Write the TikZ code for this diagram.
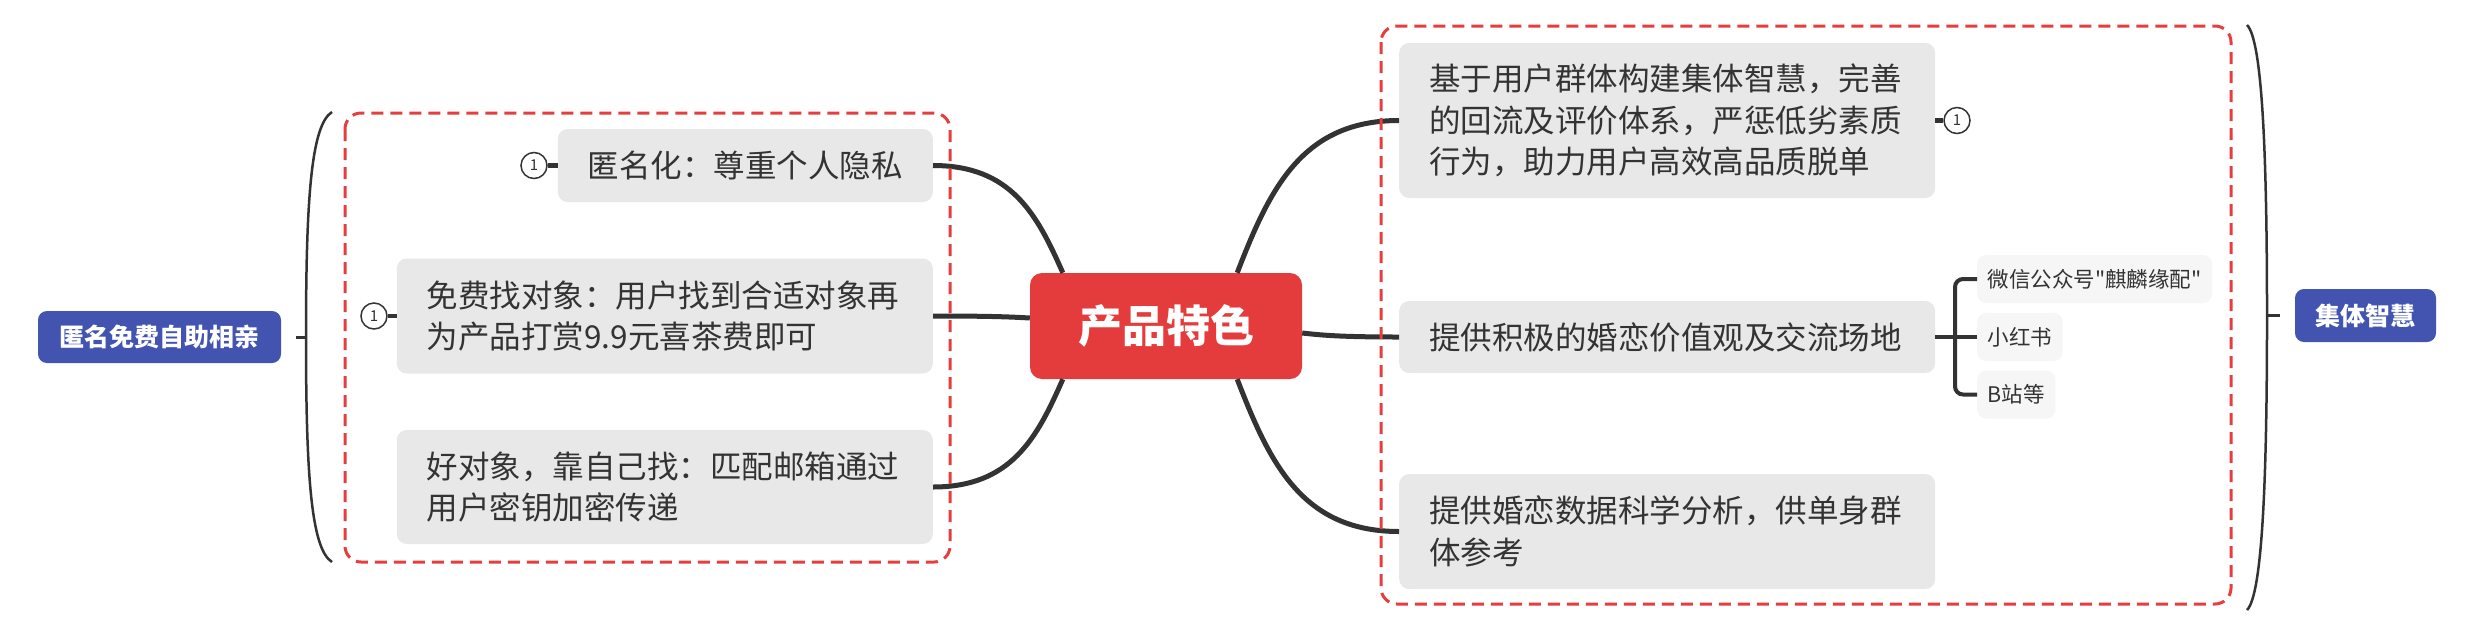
\documentclass[tikz,border=0pt]{standalone}
\usepackage{fontspec}
\newfontfamily\cjk{Noto Sans CJK SC}
\usetikzlibrary{calc}
\definecolor{linec}{HTML}{333333}
\definecolor{boxgray}{HTML}{E8E8E8}
\definecolor{subgray}{HTML}{F6F6F6}
\definecolor{centerred}{HTML}{E43C3C}
\definecolor{dashred}{HTML}{E63E3E}
\definecolor{nodeblue}{HTML}{4254B0}
\newcommand\mmcurve[2]{%
  \draw[conn] let \p1=(#1), \p2=(#2) in
    (\p1) .. controls ({\x1+0.2*(\x2-\x1)},{\y1+0.55*(\y2-\y1)}) and ({\x1+0.4*(\x2-\x1)},\y2) .. (\p2);}
\begin{document}
\begin{tikzpicture}[x=1pt,y=-1pt,
  gbox/.style={fill=boxgray, rounded corners=10pt, inner xsep=30pt, inner ysep=0pt,
    text=linec, font=\cjk\fontsize{31.5}{41.5}\selectfont, align=left},
  wbox/.style={gbox, text width=476pt},
  centerbox/.style={fill=centerred, rounded corners=12pt, inner sep=0pt,
    minimum width=272pt, minimum height=106pt, text=white,
    font=\cjk\bfseries\fontsize{44}{44}\selectfont},
  bluebox/.style={fill=nodeblue, rounded corners=9pt, inner sep=0pt, text=white,
    font=\cjk\bfseries\fontsize{25}{25}\selectfont},
  subbox/.style={fill=subgray, rounded corners=9pt, inner xsep=10.5pt, inner ysep=0pt,
    minimum height=48pt, anchor=west, text=linec, font=\cjk\fontsize{21.5}{21.5}\selectfont},
  numc/.style={circle, draw=linec, line width=1.5pt, fill=white, minimum size=26pt,
    inner sep=0pt, text=linec, font=\cjk\fontsize{15}{15}\selectfont},
  conn/.style={draw=linec, line width=5pt},
  stub/.style={draw=linec, line width=4.5pt},
  subbr/.style={draw=linec, line width=4pt, rounded corners=8pt},
  brk/.style={draw=linec, line width=2.5pt},
  dashbox/.style={draw=dashred, line width=3pt, dash pattern=on 12pt off 7pt, rounded corners=16pt}
]
\useasboundingbox (0,0) rectangle (2488,622);
\fill[white] (0,0) rectangle (2488,622);

% central node
\node[centerbox] (c) at (1166,326) {产品特色};

% left boxes
\node[gbox, anchor=east, minimum height=73pt] (b1) at (933,165.5) {匿名化：尊重个人隐私};
\node[wbox, anchor=east, minimum height=115pt] (b2) at (933,316) {免费找对象：用户找到合适对象再\\为产品打赏9.9元喜茶费即可};
\node[wbox, anchor=east, minimum height=114pt] (b3) at (933,487) {好对象，靠自己找：匹配邮箱通过\\用户密钥加密传递};

% right boxes
\node[wbox, anchor=west, minimum height=155pt] (r1) at (1399,120.5) {基于用户群体构建集体智慧，完善\\的回流及评价体系，严惩低劣素质\\行为，助力用户高效高品质脱单};
\node[wbox, anchor=west, minimum height=72pt] (r2) at (1399,337) {提供积极的婚恋价值观及交流场地};
\node[wbox, anchor=west, minimum height=115pt] (r3) at (1399,531.5) {提供婚恋数据科学分析，供单身群\\体参考};

% sub nodes
\node[subbox] (s1) at (1977,279) {微信公众号"麒麟缘配"};
\node[subbox] (s2) at (1977,337) {小红书};
\node[subbox] (s3) at (1977,394.5) {B站等};

% summary nodes
\node[bluebox, minimum width=243pt, minimum height=52pt] (bl) at (159.5,337) {匿名免费自助相亲};
\node[bluebox, minimum width=141pt, minimum height=53pt] (br) at (2365.5,315.5) {集体智慧};

% number markers
\node[numc] (n1) at (534,165.5) {1};
\node[numc] (n2) at (374,316) {1};
\node[numc] (n3) at (1957,120.5) {1};
\draw[stub] (n1.east) -- (b1.west);
\draw[stub] (n2.east) -- (b2.west);
\draw[stub] (r1.east) -- (n3.west);

% main connectors
\mmcurve{[xshift=33pt]c.north west}{b1.east}
\mmcurve{[yshift=8pt]c.west}{b2.east}
\mmcurve{[xshift=33pt]c.south west}{b3.east}
\mmcurve{[xshift=-65pt]c.north east}{r1.west}
\mmcurve{[yshift=-7pt]c.east}{r2.west}
\mmcurve{[xshift=-65pt]c.south east}{r3.west}

% sub bracket
\draw[subbr] (s1.west) -- ++(-22,0) -- ([xshift=-22pt]s3.west) -- (s3.west);
\draw[subbr] (r2.east) -- (s2.west);

% summary brackets
\draw[brk] (332,112) .. controls (311,125) and (306,200) .. (306,337)
  .. controls (306,474) and (311,549) .. (332,562);
\draw[brk, line width=3pt] ([xshift=15pt]bl.east) -- (306,337);
\draw[brk] (2247,25) .. controls (2262,40) and (2267,150) .. (2267,317)
  .. controls (2267,484) and (2262,595) .. (2247,610);
\draw[brk, line width=3pt] (2267,315.5) -- ([xshift=-15pt]br.west);

% dashed boundaries
\draw[dashbox] (345,113) rectangle (950,562);
\draw[dashbox] (1381,26) rectangle (2231,604);
\end{tikzpicture}
\end{document}
